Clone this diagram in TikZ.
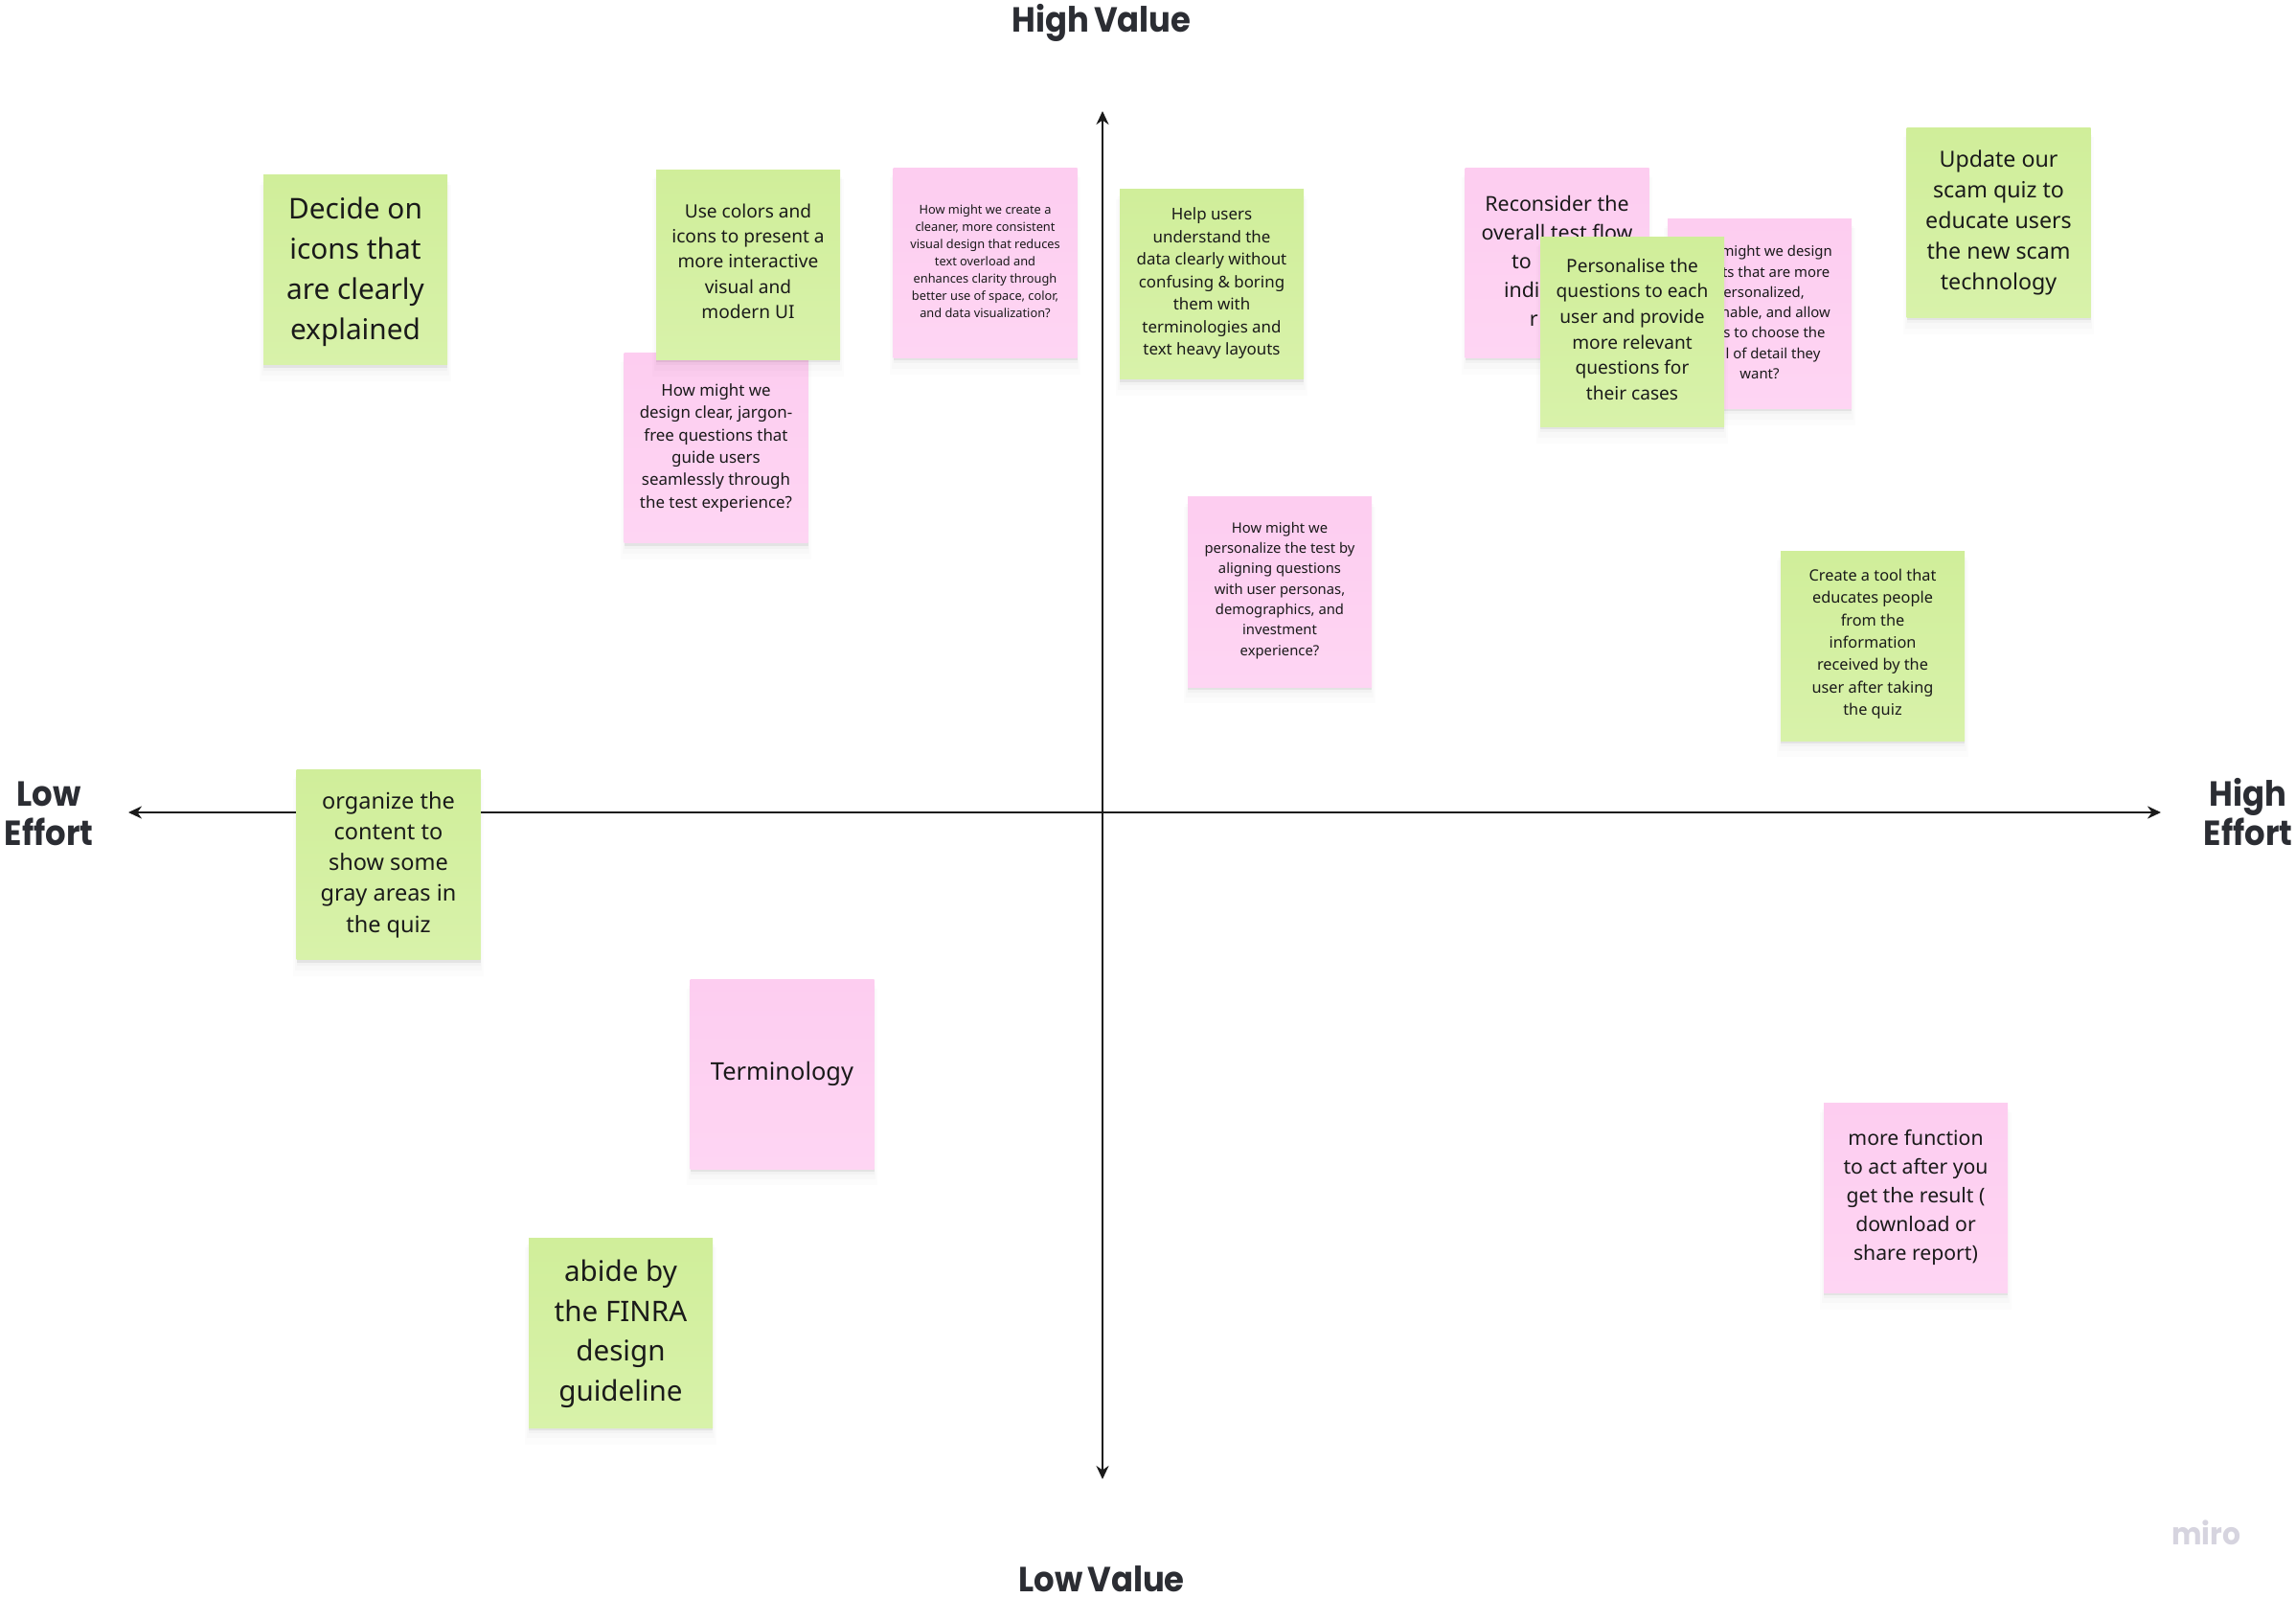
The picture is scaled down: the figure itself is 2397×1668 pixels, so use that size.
\documentclass[tikz,border=0pt]{standalone}
\usepackage{fontspec}
\usepackage{xcolor}
\setmainfont{Noto Sans}
\newfontfamily\axisfont{Poppins}[FakeStretch=0.93, WordSpace=0.7]
\usetikzlibrary{arrows.meta, shadows}
\definecolor{notegreentop}{HTML}{D0EE9A}
\definecolor{notegreenbot}{HTML}{D8F2AA}
\definecolor{notepinktop}{HTML}{FDCDF0}
\definecolor{notepinkbot}{HTML}{FED5F3}
\definecolor{axisdark}{HTML}{1A1A1A}
\definecolor{axislabel}{HTML}{2B2D33}
\definecolor{miromark}{HTML}{D6D4DF}
\definecolor{notetext}{HTML}{1A1A1A}
% invisible struts that move a note's text up or down a little
\newcommand{\deep}[1]{\rule[-#1]{0pt}{#1}}
\newcommand{\tall}[1]{\rule{0pt}{#1}}

\begin{document}
\begin{tikzpicture}[
  x=0.5pt, y=-0.5pt,
  softnote/.style={rectangle, minimum width=96pt, minimum height=99pt, inner sep=0pt, align=center, text=notetext,
    drop shadow={shadow xshift=0pt, shadow yshift=-1.5pt, fill=black, opacity=.06},
    drop shadow={shadow xshift=0pt, shadow yshift=-3pt, fill=black, opacity=.025},
    drop shadow={shadow xshift=0pt, shadow yshift=-4.5pt, fill=black, opacity=.015, shadow scale=1.02},
    drop shadow={shadow xshift=0pt, shadow yshift=-6.5pt, fill=black, opacity=.01, shadow scale=1.04}},
  greennote/.style={softnote, top color=notegreentop, bottom color=notegreenbot},
  pinknote/.style={softnote, top color=notepinktop, bottom color=notepinkbot},
  notesize/.style 2 args={font=\fontsize{#1}{#2}\selectfont},
  axislbl/.style={font=\axisfont\bfseries\fontsize{18.2}{20.5}\selectfont, text=axislabel, align=center, inner sep=0pt},
  axisline/.style={draw=axisdark, line width=1.2pt, {Stealth[length=7pt,width=6.5pt]}-{Stealth[length=7pt,width=6.5pt]}},
]
\useasboundingbox (0,0) rectangle (2397,1668);

% axes
\coordinate (west) at (134,848);
\coordinate (east) at (2256,848);
\coordinate (north) at (1151,116);
\coordinate (south) at (1151,1544);
\draw[axisline] (west) -- (east);
\draw[axisline] (north) -- (south);

\node[axislbl] (highval) at (1150,24) {High Value};
\node[axislbl] (lowval) at (1150,1648) {Low Value};
\node[axislbl] (loweff) at (51,849) {Low\\Effort};
\node[axislbl] (higheff) at (2347,848) {High\\Effort};

% green and pink notes, upper left
\node[greennote, notesize={14.9}{20.9}] (icons) at (371,282) {\tall{13pt}Decide on\\icons that\\are clearly\\explained};
\node[pinknote, notesize={8.45}{11.7}] (jargon) at (747.5,467.5) {How might we\\design clear, jargon-\\free questions that\\guide users\\seamlessly through\\the test experience?};
\node[greennote, notesize={9.55}{13.2}] (colors) at (781,276.5) {Use colors and\\icons to present a\\more interactive\\visual and\\modern UI\deep{3.8pt}};
\node[pinknote, notesize={6.4}{9}] (cleaner) at (1028.5,274.5) {How might we create a\\cleaner, more consistent\\visual design that reduces\\text overload and\\enhances clarity through\\better use of space, color,\\and data visualization?\deep{2.3pt}};

% upper right
\node[greennote, notesize={8.45}{11.75}] (helpusers) at (1265,297) {Help users\\understand the\\data clearly without\\confusing \& boring\\them with\\terminologies and\\text heavy layouts\deep{3pt}};
\node[pinknote, notesize={10.7}{15}] (reconsider) at (1625.5,274.5) {Reconsider the\\overall test flow\\to\phantom{ adapts}\\indi\phantom{vidual t}\\r\phantom{eedy}\deep{1.5pt}};
\node[pinknote, notesize={7.45}{10.65}] (results) at (1837,327.5) {\phantom{How }might we design\\\phantom{resul}ts that are more\\\phantom{p}ersonalized,\\\phantom{actio}nable, and allow\\\phantom{user}s to choose the\\\phantom{leve}l of detail they\\want?\deep{1.5pt}};
\node[greennote, notesize={9.55}{13.35}] (personalise) at (1704,346.5) {Personalise the\\questions to each\\user and provide\\more relevant\\questions for\\their cases\deep{3pt}};
\node[greennote, notesize={11.6}{15.9}] (scamquiz) at (2086.5,232.5) {Update our\\scam quiz to\\educate users\\the new scam\\technology};
\node[pinknote, notesize={7.4}{10.65}] (personas) at (1336,618) {How might we\\personalize the test by\\aligning questions\\with user personas,\\demographics, and\\investment\\experience?\deep{3.4pt}};
\node[greennote, notesize={8.15}{11.7}] (tool) at (1955,674) {Create a tool that\\educates people\\from the\\information\\received by the\\user after taking\\the quiz\deep{3.6pt}};

% lower half
\node[greennote, notesize={11.75}{16.15}] (gray) at (405.5,902.5) {organize the\\content to\\show some\\gray areas in\\the quiz};
\node[pinknote, notesize={12.7}{18}] (terms) at (816.5,1121) {Terminology};
\node[greennote, notesize={14.8}{20.9}] (finra) at (648,1391) {\tall{12.5pt}abide by\\the FINRA\\design\\guideline};
\node[pinknote, notesize={10.6}{15}] (morefn) at (2000,1250) {more function\\to act after you\\get the result (\\download or\\share report)};

\node[font=\axisfont\bfseries\fontsize{16}{20}\selectfont, text=miromark, inner sep=0pt] (miro) at (2303,1600) {miro};
\end{tikzpicture}
\end{document}
